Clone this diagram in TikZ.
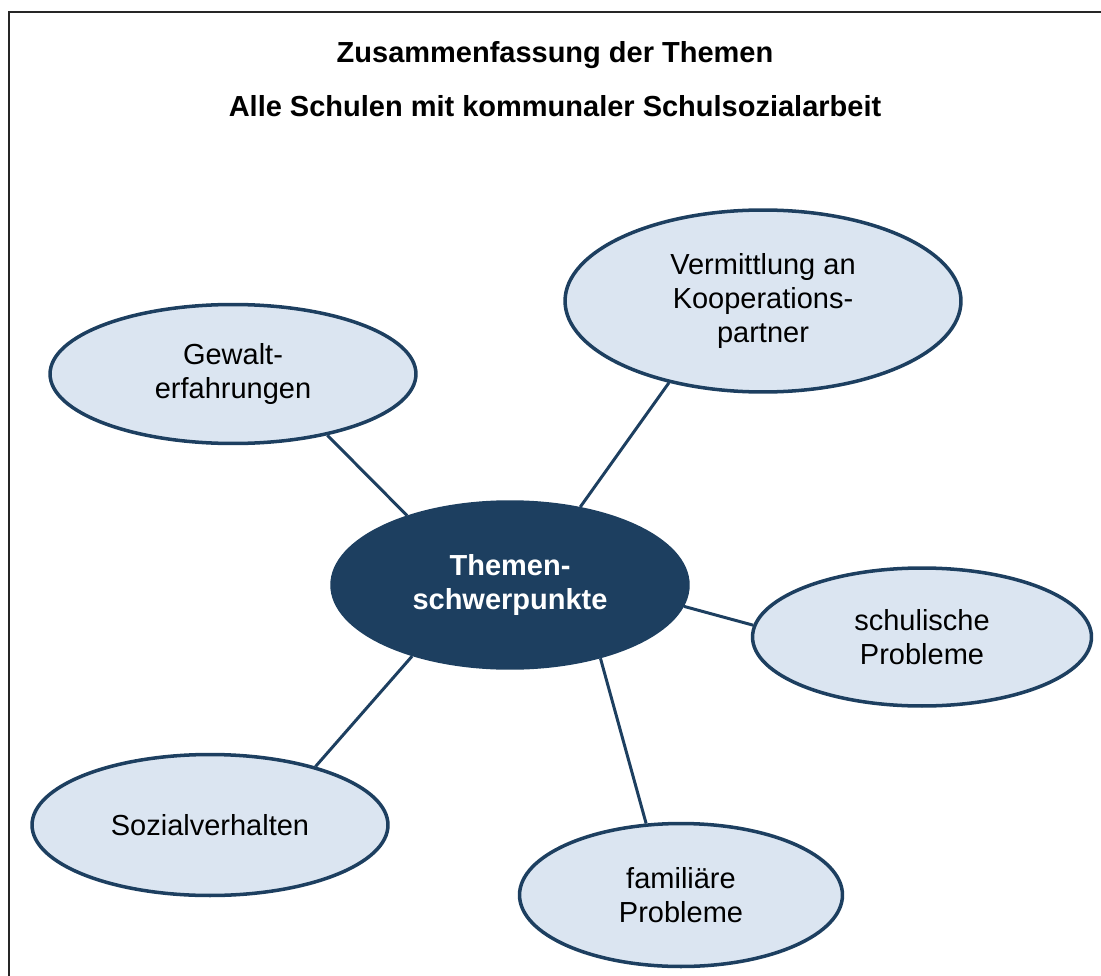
\documentclass[tikz,border=0pt]{standalone}
\usepackage{fontspec}
\setmainfont{Liberation Sans}
\usetikzlibrary{shapes.geometric}
\definecolor{navy}{HTML}{1D3F60}
\definecolor{paleblue}{HTML}{DBE5F1}
\begin{document}
\begin{tikzpicture}[x=0.02cm,y=-0.02cm,
  thema/.style={ellipse,draw=navy,fill=paleblue,line width=2pt,inner sep=0pt,align=center,
    font=\fontsize{16.5}{19.3}\selectfont},
  kern/.style={thema,fill=navy,text=white,font=\fontsize{16.5}{19.3}\selectfont\bfseries},
  verbindung/.style={draw=navy,line width=1.7pt}]
\useasboundingbox (0,0) rectangle (1101,976);
\draw[line width=0.9pt,black!85] (9,990) -- (9,12) -- (1115,12);
\node (titel) at (555,55) {\fontsize{16.5}{19.3}\selectfont\bfseries Zusammenfassung der Themen};
\node (untertitel) at (555,106) {\fontsize{16.5}{19.3}\selectfont\bfseries Alle Schulen mit kommunaler Schulsozialarbeit};
\node[kern,minimum width=7.12cm,minimum height=3.32cm] (kern) at (510,585) {Themen-\\schwerpunkte};
\node[thema,minimum width=7.32cm,minimum height=2.78cm] (gewalt) at (233,374) {Gewalt-\\erfahrungen};
\node[thema,minimum width=7.92cm,minimum height=3.64cm] (vermittlung) at (763,301) {Vermittlung an\\Kooperations-\\partner};
\node[thema,minimum width=6.78cm,minimum height=2.76cm] (schule) at (922,637) {schulische\\Probleme};
\node[thema,minimum width=6.46cm,minimum height=2.86cm] (familie) at (681,895) {familiäre\\Probleme};
\node[thema,minimum width=7.12cm,minimum height=2.82cm] (sozial) at (210,825) {Sozialverhalten};
\draw[verbindung] (kern.146) -- (gewalt.-33.5);
\draw[verbindung] (kern.48) -- (vermittlung.221.4);
\draw[verbindung] (kern.-7) -- (schule.176.2);
\draw[verbindung] (kern.-39.8) -- (familie.116.3);
\draw[verbindung] (kern.216.9) -- (sozial.29.6);
\end{tikzpicture}
\end{document}
